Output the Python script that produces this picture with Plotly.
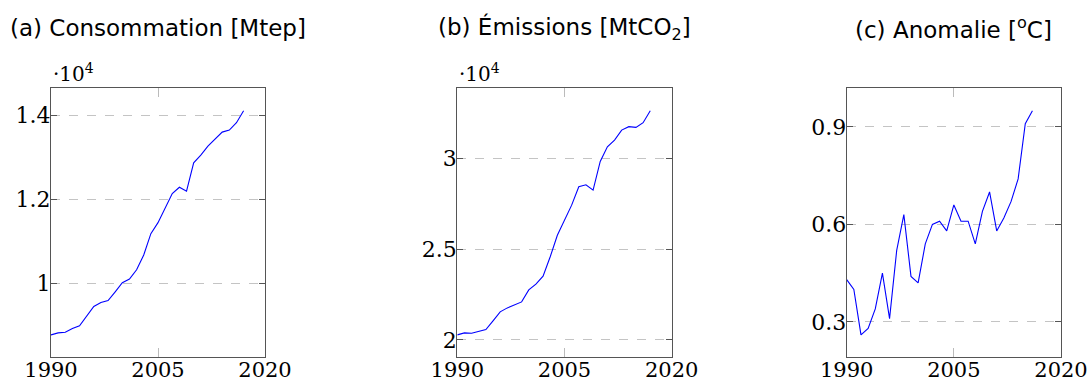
import plotly.graph_objects as go

# Annual series
years_ab = list(range(1990, 2018))
years_c = list(range(1990, 2017))

consommation_mtep = [8775, 8823, 8839, 8926, 8990, 9221, 9451, 9547, 9594, 9801,
                     10016, 10103, 10326, 10676, 11185, 11447, 11781, 12139, 12290, 12195,
                     12871, 13054, 13268, 13435, 13602, 13650, 13825, 14111]
emissions_mtco2 = [20280, 20390, 20370, 20480, 20570, 21050, 21550, 21770, 21920, 22100,
                   22760, 23080, 23520, 24590, 25780, 26610, 27440, 28450, 28560, 28270,
                   29850, 30660, 31030, 31580, 31770, 31730, 31990, 32650]
anomalie_c = [0.43, 0.40, 0.26, 0.28, 0.34, 0.45, 0.31, 0.52, 0.63, 0.44,
              0.42, 0.54, 0.60, 0.61, 0.58, 0.66, 0.61, 0.61, 0.54, 0.64,
              0.70, 0.58, 0.62, 0.67, 0.74, 0.91, 0.95]

titles = ["(a) Consommation [Mtep]", "(b) Émissions [MtCO<sub>2</sub>]", "(c) Anomalie [<sup>o</sup>C]"]
x_ticks = [1990, 2005, 2020]
y_ticks_a = [10000, 12000, 14000]
y_labels_a = ["1", "1.2", "1.4"]
y_ticks_b = [20000, 25000, 30000]
y_labels_b = ["2", "2.5", "3"]
y_ticks_c = [0.3, 0.6, 0.9]
y_labels_c = ["0.3", "0.6", "0.9"]

W, H = 1088, 385
panels = [
    dict(x=years_ab, y=consommation_mtep, tv=y_ticks_a, tt=y_labels_a, px=(51, 265), scale=True),
    dict(x=years_ab, y=emissions_mtco2, tv=y_ticks_b, tt=y_labels_b, px=(457.3, 671.7), scale=True),
    dict(x=years_c, y=anomalie_c, tv=y_ticks_c, tt=y_labels_c, px=(846.7, 1061), scale=False),
]
top_px, bot_px = 88.3, 357.3

XTICK_FONT = dict(family="DejaVu Serif", size=21, color="#000000")
YTICK_FONT = dict(family="DejaVu Serif", size=22, color="#000000")
TITLE_FONT = dict(family="DejaVu Sans", size=23, color="#000000")

fig = go.Figure()
annotations = []
for i, p in enumerate(panels, start=1):
    xa = "x" if i == 1 else f"x{i}"
    ya = "y" if i == 1 else f"y{i}"
    fig.add_trace(go.Scatter(x=p["x"], y=p["y"], mode="lines",
                             line=dict(color="#0000ff", width=1.1),
                             xaxis=xa, yaxis=ya, showlegend=False))
    lo, hi = min(p["y"]), max(p["y"])
    pad = 0.1 * (hi - lo)
    dom_x = [p["px"][0] / W, p["px"][1] / W]
    dom_y = [1 - bot_px / H, 1 - top_px / H]
    fig.update_layout(**{
        ("xaxis" if i == 1 else f"xaxis{i}"): dict(
            domain=dom_x, range=[1990, 2020], tickvals=x_ticks,
            ticks="inside", ticklen=9, tickcolor="#bbbbbb", tickwidth=1.3,
            showline=True, linecolor="#555555", linewidth=1.3, mirror="allticks",
            showgrid=False, zeroline=False, tickfont=XTICK_FONT, anchor=ya,
            automargin=False, fixedrange=True, ticklabelstandoff=-7,
            ticklabeloverflow="allow"),
        ("yaxis" if i == 1 else f"yaxis{i}"): dict(
            domain=dom_y, range=[lo - pad, hi + pad], tickvals=p["tv"], ticktext=p["tt"],
            ticks="inside", ticklen=6, tickcolor="#555555", tickwidth=1.3,
            showline=True, linecolor="#555555", linewidth=1.3, mirror="allticks",
            showgrid=True, gridcolor="#c4c4c4", griddash="dash", gridwidth=1,
            zeroline=False, tickfont=YTICK_FONT, anchor=xa, automargin=False,
            fixedrange=True, ticklabelstandoff=-5, ticklabeloverflow="allow"),
    })
    annotations.append(dict(text=titles[i - 1], x=(dom_x[0] + dom_x[1]) / 2, y=1 - 28 / H,
                            xref="paper", yref="paper", xanchor="center", yanchor="middle",
                            showarrow=False, font=TITLE_FONT))
    if p["scale"]:
        annotations.append(dict(text="·10<sup>4</sup>", x=dom_x[0], y=1 - 73 / H,
                                xref="paper", yref="paper", xanchor="left", yanchor="middle",
                                showarrow=False, font=dict(family="DejaVu Serif", size=20, color="#000000")))

fig.update_layout(width=W, height=H, margin=dict(l=0, r=0, t=0, b=0),
                  paper_bgcolor="white", plot_bgcolor="white", annotations=annotations)
fig.write_html("out.html")
